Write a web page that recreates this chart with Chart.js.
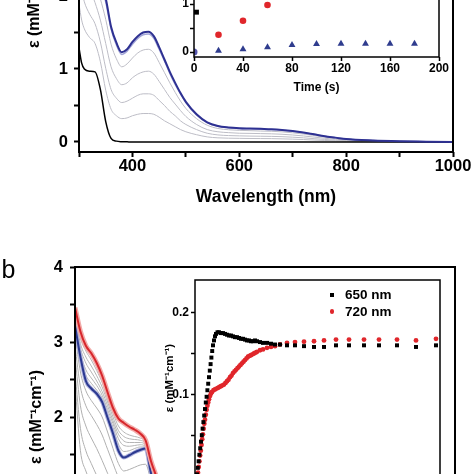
<!DOCTYPE html>
<html>
<head>
<meta charset="utf-8">
<script src="https://cdn.jsdelivr.net/npm/chart.js@4.4.0/dist/chart.umd.min.js"></script>
<style>
  html, body { margin: 0; padding: 0; background: #fff; }
  body { width: 474px; height: 474px; overflow: hidden; position: relative; font-family: "Liberation Sans", Arial, sans-serif; }
  canvas { position: absolute; }
  .txt { position: absolute; white-space: nowrap; color: #000; }
  .mark { position: absolute; }
</style>
</head>
<body>
<canvas id="specA" width="474" height="420" style="left:0px; top:-200px;"></canvas>
<canvas id="kinA" width="300" height="160" style="left:150px; top:-60px;"></canvas>
<canvas id="specB" width="474" height="385" style="left:0px; top:250px;"></canvas>
<canvas id="kinB" width="310" height="260" style="left:140px; top:270px;"></canvas>

<div class="txt" style="left:1.5px; top:257px; font-size:25px; line-height:25px;">b</div>
<div class="mark" style="left:329.5px; top:292.5px; width:4.5px; height:4.5px; background:#000;"></div>
<div class="txt" style="left:345px; top:288px; font-size:13.5px; line-height:13.5px; font-weight:bold;">650 nm</div>
<div class="mark" style="left:329.6px; top:309.4px; width:4.8px; height:4.8px; border-radius:50%; background:#e0262b;"></div>
<div class="txt" style="left:345px; top:305.4px; font-size:13.5px; line-height:13.5px; font-weight:bold;">720 nm</div>

<script>
// ---- panel a : spectra ----
const wlA = [300, 305, 310, 320, 330, 340, 350, 360, 370, 380, 390, 400, 410, 420, 430, 440, 450, 460, 470, 480,
  490, 500, 520, 540, 560, 580, 600, 620, 640, 660, 680, 700, 720, 740, 760, 780, 800, 850, 900, 950, 1000];
const blackA = [1.29, 1.08, 1.00, 0.97, 0.96, 0.72, 0.28, 0.05, 0.012, 0.004, 0.002, 0, 0, 0, 0, 0, 0, 0, 0, 0,
  0, 0, 0, 0, 0, 0, 0, 0, 0, 0, 0, 0, 0, 0, 0, 0, 0, 0, 0, 0, 0];
const blueA = [3.60, 3.35, 3.10, 2.75, 2.45, 2.20, 1.97, 1.58, 1.36, 1.23, 1.27, 1.37, 1.45, 1.50, 1.51, 1.45, 1.30, 1.13, 0.96, 0.81,
  0.67, 0.55, 0.38, 0.27, 0.22, 0.20, 0.19, 0.185, 0.18, 0.175, 0.165, 0.15, 0.13, 0.105, 0.08, 0.06, 0.04, 0.02, 0.01, 0.005, 0];
const lavA = [3.55, 3.30, 3.06, 2.71, 2.42, 2.17, 1.92, 1.55, 1.33, 1.20, 1.245, 1.34, 1.42, 1.47, 1.48, 1.42, 1.27, 1.11, 0.94, 0.79,
  0.66, 0.54, 0.37, 0.265, 0.215, 0.196, 0.186, 0.181, 0.176, 0.17, 0.16, 0.146, 0.127, 0.103, 0.078, 0.059, 0.039, 0.02, 0.01, 0.005, 0];
const grayA1 = [3.23, 2.99, 2.76, 2.47, 2.21, 1.96, 1.68, 1.34, 1.14, 1.03, 1.07, 1.15, 1.22, 1.26, 1.27, 1.22, 1.09, 0.95, 0.81, 0.68,
  0.56, 0.46, 0.32, 0.23, 0.185, 0.168, 0.16, 0.155, 0.15, 0.147, 0.139, 0.126, 0.109, 0.088, 0.067, 0.05, 0.034, 0.017, 0.008, 0.004, 0];
const grayA2 = [2.77, 2.53, 2.34, 2.11, 1.91, 1.67, 1.35, 1.03, 0.87, 0.785, 0.81, 0.88, 0.93, 0.96, 0.97, 0.93, 0.83, 0.72, 0.61, 0.52,
  0.43, 0.35, 0.24, 0.17, 0.14, 0.128, 0.12, 0.118, 0.115, 0.112, 0.106, 0.096, 0.083, 0.067, 0.051, 0.038, 0.026, 0.013, 0.006, 0.003, 0];
const grayA3 = [2.31, 2.08, 1.92, 1.75, 1.62, 1.37, 1.01, 0.72, 0.60, 0.54, 0.56, 0.60, 0.64, 0.66, 0.66, 0.64, 0.57, 0.50, 0.42, 0.36,
  0.29, 0.24, 0.17, 0.12, 0.097, 0.088, 0.084, 0.081, 0.079, 0.077, 0.073, 0.066, 0.057, 0.046, 0.035, 0.026, 0.018, 0.009, 0.004, 0.002, 0];
const grayA4 = [1.89, 1.67, 1.55, 1.43, 1.35, 1.10, 0.71, 0.45, 0.36, 0.32, 0.33, 0.36, 0.38, 0.39, 0.39, 0.38, 0.34, 0.29, 0.25, 0.21,
  0.17, 0.14, 0.10, 0.07, 0.057, 0.052, 0.05, 0.048, 0.047, 0.046, 0.043, 0.039, 0.034, 0.027, 0.021, 0.016, 0.01, 0.005, 0.003, 0.001, 0];

// ---- panel a inset : time course ----
const kinA_tBlack = [2];
const kinA_black = [0.83];
const kinA_tRed = [20, 40, 60];
const kinA_red = [0.36, 0.65, 0.98];
const kinA_tStart = [0];
const kinA_start = [0];
const kinA_tBlue = [20, 40, 60, 80, 100, 120, 140, 160, 180];
const kinA_blue = [0.027, 0.056, 0.098, 0.146, 0.167, 0.173, 0.173, 0.173, 0.173];

// ---- panel b : spectra ----
const wlB = [300, 310, 320, 330, 340, 350, 360, 370, 380, 390, 400, 410, 420, 430, 440, 450, 460, 480, 500, 550, 600, 700, 800, 900, 1000];
const redB = [3.46, 3.14, 2.95, 2.85, 2.72, 2.55, 2.33, 2.12, 1.98, 1.92, 1.87, 1.83, 1.78, 1.69, 1.41, 1.20, 0.95, 0.70, 0.55, 0.40, 0.30, 0.20, 0.12, 0.08, 0.05];
const blueB = [3.22, 2.80, 2.48, 2.38, 2.31, 2.20, 1.99, 1.78, 1.55, 1.46, 1.49, 1.53, 1.56, 1.58, 1.25, 1.02, 0.85, 0.62, 0.48, 0.35, 0.27, 0.18, 0.11, 0.07, 0.04];
const grayBup1 = [3.40, 3.05, 2.88, 2.76, 2.62, 2.46, 2.25, 2.05, 1.88, 1.80, 1.76, 1.74, 1.72, 1.66, 1.36, 1.14, 0.93, 0.68, 0.53, 0.39, 0.29, 0.19, 0.12, 0.08, 0.05];
const grayBup2 = [3.35, 2.98, 2.80, 2.68, 2.55, 2.40, 2.20, 2.00, 1.82, 1.74, 1.71, 1.70, 1.69, 1.64, 1.34, 1.12, 0.92, 0.67, 0.52, 0.38, 0.29, 0.19, 0.12, 0.08, 0.05];
const grayBup3 = [3.30, 2.92, 2.72, 2.60, 2.48, 2.34, 2.15, 1.95, 1.77, 1.68, 1.66, 1.66, 1.66, 1.62, 1.32, 1.10, 0.90, 0.66, 0.51, 0.37, 0.28, 0.19, 0.12, 0.08, 0.05];
const grayBup4 = [3.28, 2.86, 2.63, 2.52, 2.42, 2.29, 2.10, 1.91, 1.71, 1.62, 1.61, 1.62, 1.63, 1.61, 1.30, 1.08, 0.88, 0.65, 0.50, 0.37, 0.28, 0.19, 0.12, 0.08, 0.05];
const grayBup5 = [3.25, 2.82, 2.56, 2.45, 2.36, 2.25, 2.05, 1.86, 1.64, 1.54, 1.55, 1.58, 1.60, 1.60, 1.28, 1.05, 0.87, 0.64, 0.49, 0.36, 0.28, 0.19, 0.12, 0.08, 0.05];
const grayBlo1 = [3.10, 2.60, 2.35, 2.22, 2.12, 2.00, 1.80, 1.58, 1.38, 1.28, 1.30, 1.33, 1.36, 1.37, 1.15, 0.95, 0.80, 0.58, 0.45, 0.33, 0.25, 0.17, 0.10, 0.06, 0.04];
const grayBlo2 = [2.95, 2.40, 2.15, 2.02, 1.90, 1.76, 1.57, 1.38, 1.20, 1.10, 1.12, 1.15, 1.18, 1.19, 1.02, 0.86, 0.72, 0.52, 0.41, 0.30, 0.23, 0.15, 0.09, 0.06, 0.04];
const grayBlo3 = [2.80, 2.15, 1.88, 1.72, 1.58, 1.42, 1.25, 1.08, 0.95, 0.88, 0.89, 0.92, 0.94, 0.95, 0.84, 0.72, 0.60, 0.45, 0.35, 0.26, 0.20, 0.13, 0.08, 0.05, 0.03];
const grayBlo4 = [2.60, 1.85, 1.55, 1.38, 1.22, 1.08, 0.95, 0.82, 0.72, 0.66, 0.67, 0.69, 0.71, 0.72, 0.64, 0.55, 0.47, 0.36, 0.28, 0.21, 0.16, 0.11, 0.07, 0.04, 0.03];
const grayBlo5 = [2.45, 1.55, 1.28, 1.12, 0.98, 0.86, 0.75, 0.64, 0.56, 0.51, 0.52, 0.53, 0.55, 0.56, 0.50, 0.43, 0.37, 0.28, 0.22, 0.17, 0.13, 0.09, 0.06, 0.04, 0.02];

// ---- panel b inset : time course at 650 / 720 nm ----
const t650 = [20, 28, 36, 44, 52, 60, 68, 76, 84, 92, 100, 108, 116, 124, 132, 140, 148, 156, 164, 172, 180, 190,
  200, 210, 225, 240, 260, 280, 300, 320, 340, 360, 380, 400, 420, 440, 460, 480, 500, 520, 540, 560, 580, 600, 620,
  650, 680, 720, 760, 800, 850, 920, 1000, 1090, 1190, 1290, 1410, 1540, 1690, 1840, 2020, 2210, 2410];
const v650 = [0.002, 0.010, 0.018, 0.026, 0.034, 0.042, 0.050, 0.058, 0.066, 0.074, 0.082, 0.090, 0.097, 0.105, 0.113, 0.121, 0.129, 0.137, 0.145, 0.153, 0.160, 0.166,
  0.171, 0.174, 0.176, 0.176, 0.175, 0.175, 0.174, 0.173, 0.172, 0.172, 0.171, 0.170, 0.170, 0.169, 0.168, 0.168, 0.167, 0.166, 0.166, 0.165, 0.165, 0.166, 0.165,
  0.164, 0.163, 0.163, 0.162, 0.161, 0.161, 0.160, 0.160, 0.159, 0.158, 0.158, 0.160, 0.160, 0.160, 0.160, 0.160, 0.158, 0.160];
const t720 = [30, 37, 44, 51, 58, 65, 72, 79, 86, 93, 100, 108, 116, 124, 132, 140, 150, 160, 170, 185, 200, 215, 230, 245,
  260, 275, 290, 305, 320, 335, 350, 365, 380, 395, 410, 425, 440, 455, 470, 485, 500, 515, 530, 545, 560, 575, 590, 605, 620,
  650, 680, 720, 760, 800, 850, 920, 1000, 1090, 1190, 1290, 1410, 1540, 1690, 1840, 2020, 2210, 2410];
const v720 = [0.004, 0.011, 0.018, 0.025, 0.031, 0.038, 0.045, 0.051, 0.058, 0.064, 0.069, 0.075, 0.081, 0.086, 0.090, 0.094, 0.098, 0.101, 0.103, 0.105, 0.106, 0.107, 0.108, 0.109,
  0.110, 0.111, 0.112, 0.114, 0.116, 0.118, 0.121, 0.123, 0.126, 0.128, 0.130, 0.132, 0.134, 0.136, 0.138, 0.140, 0.142, 0.144, 0.146, 0.147, 0.148, 0.149, 0.150, 0.151, 0.152,
  0.154, 0.155, 0.157, 0.158, 0.159, 0.161, 0.163, 0.164, 0.1645, 0.165, 0.166, 0.167, 0.167, 0.167, 0.167, 0.167, 0.166, 0.168];

Chart.defaults.font.family = '"Liberation Sans", Arial, sans-serif';
Chart.defaults.color = '#000';

const yTitle = 'ε (mM⁻¹cm⁻¹)';

// white plot background for the insets and a closed frame round every plot
const boxPlugin = {
  id: 'box',
  beforeDraw(chart, args, opts) {
    if (!opts.fill) return;
    const a = chart.chartArea;
    const c = chart.ctx;
    c.save();
    c.fillStyle = '#fff';
    c.fillRect(a.left, a.top, a.right - a.left, a.bottom - a.top);
    c.restore();
  },
  afterDatasetsDraw(chart, args, opts) {
    const a = chart.chartArea;
    const c = chart.ctx;
    c.save();
    c.strokeStyle = '#000';
    c.lineWidth = opts.width || 2;
    c.strokeRect(a.left, a.top, a.right - a.left, a.bottom - a.top);
    c.restore();
  }
};

function pts(xs, ys) {
  return xs.map((x, i) => ({ x: x, y: ys[i] }));
}

function curve(xs, ys, color, width) {
  return { data: pts(xs, ys), borderColor: color, borderWidth: width, pointRadius: 0,
    cubicInterpolationMode: 'monotone', fill: false };
}

function marks(xs, ys, style, color, radius) {
  return { data: pts(xs, ys), pointStyle: style, pointRadius: radius, backgroundColor: color,
    borderColor: color, borderWidth: 0, showLine: false };
}

function tickGrid(len, width) {
  return { display: true, drawOnChartArea: false, drawTicks: true, tickLength: len, tickWidth: width,
    tickColor: '#000', color: '#000' };
}

const intLabel = (v) => (Number.isInteger(v) ? v : '');

// panel a main
new Chart(document.getElementById('specA'), {
  type: 'line',
  data: {
    datasets: [
      curve(wlA, blueA, '#2e3192', 2),
      curve(wlA, blackA, '#000', 1.5),
      curve(wlA, lavA, '#a3a6d8', 1.5),
      curve(wlA, grayA1, '#bdbdc6', 1),
      curve(wlA, grayA2, '#bdbdc6', 1),
      curve(wlA, grayA3, '#bdbdc6', 1),
      curve(wlA, grayA4, '#bdbdc6', 1),
    ],
  },
  options: {
    responsive: false,
    animation: false,
    events: [],
    layout: { padding: { left: 0, right: 21, top: 50, bottom: 0 } },
    plugins: { legend: { display: false }, tooltip: { enabled: false }, box: { width: 2 } },
    scales: {
      x: {
        type: 'linear', min: 300, max: 1000,
        ticks: { stepSize: 100, autoSkip: false, maxRotation: 0, padding: 0,
          font: { size: 16.5, weight: 'bold' }, callback: (v) => (v % 200 === 0 ? v : '') },
        grid: tickGrid(5, 2),
        border: { display: false },
        title: { display: true, text: 'Wavelength (nm)', font: { size: 17.5, weight: 'bold' }, padding: { top: 0, bottom: 12.5 } },
        afterFit: (s) => { s.height = 68; },
      },
      y: {
        type: 'linear', min: -0.137, max: 4,
        ticks: { stepSize: 0.5, includeBounds: false, autoSkip: false, padding: 6,
          font: { size: 16.5, weight: 'bold' }, callback: intLabel },
        grid: tickGrid(5, 2),
        border: { display: false },
        title: { display: true, text: yTitle, font: { size: 16, weight: 'bold' }, padding: { top: 25.4, bottom: 0 } },
        afterFit: (s) => { s.width = 79; },
      },
    },
  },
  plugins: [boxPlugin],
});

// panel a inset
new Chart(document.getElementById('kinA'), {
  type: 'scatter',
  data: {
    datasets: [
      marks(kinA_tBlack, kinA_black, 'rect', '#000', 3.5),
      marks(kinA_tRed, kinA_red, 'circle', '#e0262b', 3.3),
      marks(kinA_tStart, kinA_start, 'circle', '#5556ad', 3.5),
      marks(kinA_tBlue, kinA_blue, 'triangle', '#2f3c8e', 4),
    ],
  },
  options: {
    responsive: false,
    animation: false,
    events: [],
    layout: { padding: { left: 0, right: 11, top: 16, bottom: 0 } },
    plugins: { legend: { display: false }, tooltip: { enabled: false }, box: { fill: true, width: 1.5 } },
    scales: {
      x: {
        type: 'linear', min: 0, max: 200,
        ticks: { stepSize: 40, autoSkip: false, maxRotation: 0, padding: 0, font: { size: 12, weight: 'bold' } },
        grid: tickGrid(4, 1.5),
        border: { display: false },
        title: { display: true, text: 'Time (s)', font: { size: 12, weight: 'bold' }, padding: { top: 0, bottom: 4.8 } },
        afterFit: (s) => { s.height = 43; },
      },
      y: {
        type: 'linear', min: -0.104, max: 2,
        ticks: { stepSize: 0.5, includeBounds: false, autoSkip: false, padding: 1,
          font: { size: 12, weight: 'bold' }, callback: intLabel },
        grid: tickGrid(4, 1.5),
        border: { display: false },
        afterFit: (s) => { s.width = 44; },
      },
    },
  },
  plugins: [boxPlugin],
});

// panel b main
new Chart(document.getElementById('specB'), {
  type: 'line',
  data: {
    datasets: [
      curve(wlB, redB, '#d7262b', 2),
      curve(wlB, redB, '#f2aaa8', 5),
      curve(wlB, blueB, '#2b3990', 2),
      curve(wlB, blueB, '#aeb1dc', 4),
      curve(wlB, grayBup1, '#b5b5b5', 1),
      curve(wlB, grayBup2, '#b5b5b5', 1),
      curve(wlB, grayBup3, '#b5b5b5', 1),
      curve(wlB, grayBup4, '#b5b5b5', 1),
      curve(wlB, grayBup5, '#b5b5b5', 1),
      curve(wlB, grayBlo1, '#b0b0b0', 1),
      curve(wlB, grayBlo2, '#b0b0b0', 1),
      curve(wlB, grayBlo3, '#b0b0b0', 1),
      curve(wlB, grayBlo4, '#b0b0b0', 1),
      curve(wlB, grayBlo5, '#b0b0b0', 1),
    ],
  },
  options: {
    responsive: false,
    animation: false,
    events: [],
    layout: { padding: { left: 0, right: 19, top: 17, bottom: 0 } },
    plugins: { legend: { display: false }, tooltip: { enabled: false }, box: { width: 2 } },
    scales: {
      x: {
        type: 'linear', min: 300, max: 1000,
        ticks: { stepSize: 100, autoSkip: false, maxRotation: 0, padding: 0,
          font: { size: 16.5, weight: 'bold' }, callback: (v) => (v % 200 === 0 ? v : '') },
        grid: tickGrid(5, 2),
        border: { display: false },
        title: { display: true, text: 'Wavelength (nm)', font: { size: 17.5, weight: 'bold' }, padding: { top: 0, bottom: 12.5 } },
        afterFit: (s) => { s.height = 68; },
      },
      y: {
        type: 'linear', min: 0, max: 4,
        ticks: { stepSize: 0.5, includeBounds: false, autoSkip: false, padding: 7,
          font: { size: 16.5, weight: 'bold' }, callback: intLabel },
        grid: tickGrid(5, 2),
        border: { display: false },
        title: { display: true, text: yTitle, font: { size: 16, weight: 'bold' }, padding: { top: 27.4, bottom: 0 } },
        afterFit: (s) => { s.width = 75; },
      },
    },
  },
  plugins: [boxPlugin],
});

// panel b inset
new Chart(document.getElementById('kinB'), {
  type: 'scatter',
  data: {
    datasets: [
      marks(t650, v650, 'rect', '#000', 2.8),
      marks(t720, v720, 'circle', '#e0262b', 2.4),
    ],
  },
  options: {
    responsive: false,
    animation: false,
    events: [],
    layout: { padding: { left: 0, right: 10, top: 10, bottom: 54 } },
    plugins: { legend: { display: false }, tooltip: { enabled: false }, box: { fill: true, width: 1.5 } },
    scales: {
      x: { type: 'linear', min: 0, max: 2450, display: false },
      y: {
        type: 'linear', min: 0, max: 0.24,
        ticks: { stepSize: 0.05, includeBounds: false, autoSkip: false, padding: 2,
          font: { size: 12, weight: 'bold' },
          callback: (v) => (v > 0 && Math.round(v * 100) % 10 === 0 ? v.toFixed(1) : '') },
        grid: tickGrid(4, 1.5),
        border: { display: false },
        title: { display: true, text: yTitle, font: { size: 11.5, weight: 'bold' }, padding: { top: 23, bottom: 0 } },
        afterFit: (s) => { s.width = 55; },
      },
    },
  },
  plugins: [boxPlugin],
});
</script>
</body>
</html>
